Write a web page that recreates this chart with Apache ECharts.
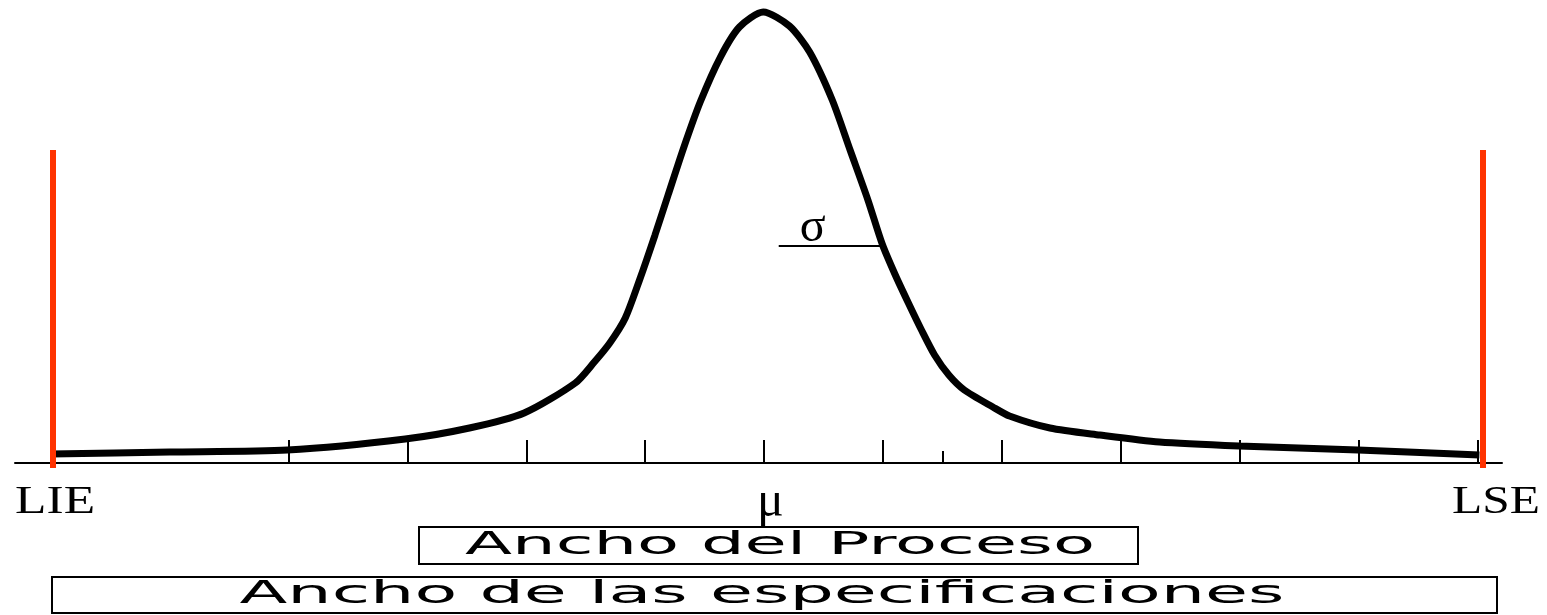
<!DOCTYPE html>
<html>
<head>
<meta charset="utf-8">
<script src="https://cdn.jsdelivr.net/npm/echarts@6/dist/echarts.min.js"></script>
<style>
  html, body { margin: 0; padding: 0; background: #fff; }
  #chart { width: 1547px; height: 615px; }
</style>
</head>
<body>
<div id="chart"></div>
<script>
// Process distribution: x in sigma units from the mean, y as % of the peak height
const curveX = [-6.0, -5.0, -4.01, -3.02, -2.48, -2.02, -1.59, -1.43, -1.30, -1.17, -1.05, -0.92, -0.81, -0.68, -0.54, -0.37, -0.21, -0.01,
                0.21, 0.38, 0.57, 0.72, 0.87, 0.99, 1.10, 1.21, 1.32, 1.43, 1.55, 1.68, 1.92, 2.06, 2.40, 2.82, 3.32, 3.99, 4.99, 6.01];
const curveY = [2.0, 2.44, 2.88, 5.32, 7.76, 11.09, 17.74, 22.39, 26.61, 32.15, 40.58, 50.55, 59.42, 69.84, 80.04, 90.02, 96.67, 100,
                96.9, 91.13, 80.49, 69.4, 58.31, 48.56, 41.69, 35.48, 29.49, 23.95, 19.51, 16.19, 12.42, 10.42, 7.76, 6.21, 4.66, 3.77, 2.88, 1.77];

// Baseline ticks (sigma units); the half-sigma one is drawn short
const majorTicks = [-4, -3, -2, -1, 0, 1, 2, 3, 4, 5, 6];
const minorTicks = [1.5];

// Specification limits
const specLimits = [-5.98, 6.04];
const specNames = ['LIE', 'LSE'];
const specHeight = 69.4;

// Sigma marker: horizontal segment ending on the curve
const sigmaSegX = [0.12, 0.99];
const sigmaSegY = 48.1;

const meanName = 'μ';
const sigmaName = 'σ';
const bandNames = ['Ancho del Proceso', 'Ancho de las especificaciones'];

const chart = echarts.init(document.getElementById('chart'), null, { renderer: 'canvas' });

const tickData = majorTicks.map(v => [v, 0]).concat(minorTicks.map(v => [v, 1]));
const specData = specLimits.map(v => [v, specHeight]);

chart.setOption({
  animation: false,
  backgroundColor: '#fff',
  grid: { left: 15, right: 45, top: 12, bottom: 152 },
  xAxis: {
    type: 'value', min: -6.3, max: 6.2,
    axisLine: { show: true, onZero: false, lineStyle: { color: '#000', width: 2 } },
    axisTick: { show: false }, axisLabel: { show: false }, splitLine: { show: false }
  },
  yAxis: {
    type: 'value', min: 0, max: 100, show: false, splitLine: { show: false }
  },
  series: [
    {
      type: 'custom', z: 2, silent: true,
      data: tickData,
      renderItem(params, api) {
        const p = api.coord([api.value(0), 0]);
        const x = Math.round(p[0]);
        const len = api.value(1) ? 12 : 23;
        return { type: 'line', shape: { x1: x, y1: p[1], x2: x, y2: p[1] - len },
                 style: { stroke: '#000', lineWidth: 2 } };
      }
    },
    {
      type: 'line', z: 3, silent: true, clip: false,
      data: curveX.map((x, i) => [x, curveY[i]]),
      smooth: 0.25, symbol: 'none',
      lineStyle: { color: '#000', width: 7 }
    },
    {
      type: 'line', z: 3, silent: true, clip: false,
      data: sigmaSegX.map(x => [x, sigmaSegY]),
      symbol: 'none',
      lineStyle: { color: '#000', width: 2 }
    },
    {
      type: 'custom', z: 4, silent: true,
      data: specData,
      renderItem(params, api) {
        const p0 = api.coord([api.value(0), 0]);
        const p1 = api.coord([api.value(0), api.value(1)]);
        const x = Math.round(p0[0]);
        return { type: 'line', shape: { x1: x, y1: p0[1] + 5, x2: x, y2: p1[1] },
                 style: { stroke: '#ff3300', lineWidth: 6 } };
      }
    }
  ]
});

// Text stretched horizontally to a given width
const measureCtx = document.createElement('canvas').getContext('2d');
function stretchTo(text, font, width) {
  measureCtx.font = font;
  return width / measureCtx.measureText(text).width;
}

const toPx = v => chart.convertToPixel({ xAxisIndex: 0, yAxisIndex: 0 }, v);
const serif = '"Liberation Serif", "DejaVu Serif", serif';
const sans = '"DejaVu Sans", "Liberation Sans", sans-serif';

const lie = toPx([specLimits[0], 0]);
const lse = toPx([specLimits[1], 0]);
const mu = toPx([0, 0]);
const sig = toPx([sigmaSegX[0], sigmaSegY]);

const bandSize = 32;
const bandFont = bandSize + 'px ' + sans;
const specFont = '39px ' + serif;

function label(text, x, y, font, size, scaleX) {
  return {
    type: 'text', x, y, scaleX: scaleX || 1, silent: true,
    style: { text, x: 0, y: 0, align: 'center', verticalAlign: 'middle',
             font: size + 'px ' + font, fill: '#000' }
  };
}

chart.setOption({
  graphic: [
    label(specNames[0], lie[0] + 2, lie[1] + 40, serif, 39, stretchTo(specNames[0], specFont, 80)),
    label(specNames[1], lse[0] + 13, lse[1] + 40, serif, 39, stretchTo(specNames[1], specFont, 88)),
    label(meanName, mu[0] + 6, mu[1] + 40, serif, 50, 1),
    label(sigmaName, sig[0] + 34, sig[1] - 18, serif, 48, 1),
    { type: 'rect', silent: true, shape: { x: 419, y: 527, width: 719, height: 37 },
      style: { fill: 'none', stroke: '#000', lineWidth: 2 } },
    { type: 'rect', silent: true, shape: { x: 52, y: 577, width: 1445, height: 36 },
      style: { fill: 'none', stroke: '#000', lineWidth: 2 } },
    label(bandNames[0], 780, 546, sans, bandSize, stretchTo(bandNames[0], bandFont, 630)),
    label(bandNames[1], 762, 595, sans, bandSize, stretchTo(bandNames[1], bandFont, 1045))
  ]
});
</script>
</body>
</html>
